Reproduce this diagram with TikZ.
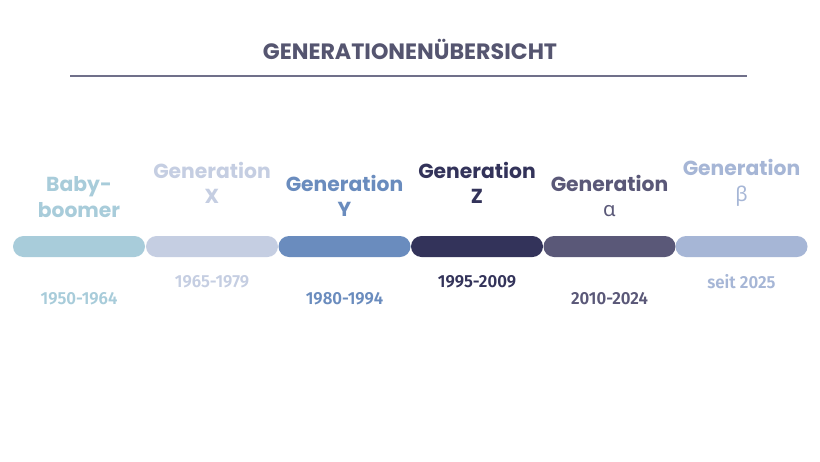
\documentclass[tikz,border=0pt]{standalone}
\usepackage{fontspec}
\setmainfont{Poppins}
\newfontfamily\greekf{Noto Sans}
\newfontfamily\yearf[FakeStretch=0.96]{Fira Sans SemiBold}
\definecolor{cA}{HTML}{A8CCDA}
\definecolor{cB}{HTML}{C5CEE2}
\definecolor{cC}{HTML}{6A8CBE}
\definecolor{cD}{HTML}{33335A}
\definecolor{cE}{HTML}{5A5878}
\definecolor{cF}{HTML}{A6B6D6}
\definecolor{titlec}{HTML}{555570}
\definecolor{rulec}{HTML}{70708A}
\tikzset{
  bar/.style={fill=#1, draw=none, rounded corners=10.5pt, minimum width=132pt, minimum height=21pt, inner sep=0pt},
  gen/.style={text=#1, font=\fontsize{20.3}{25.5}\selectfont\bfseries, align=center, inner sep=0pt, anchor=center},
  yr/.style={text=#1, font=\fontsize{17.5}{20}\yearf, inner sep=0pt, anchor=center},
}
\begin{document}
\begin{tikzpicture}[x=1pt,y=-1pt]
\useasboundingbox[fill=white] (0,0) rectangle (820,461);
\node[text=titlec, font=\fontsize{22.2}{26}\selectfont\bfseries, inner sep=0pt] (title) at (410,49) {GENERATIONENÜBERSICHT};
\coordinate (rl) at (70,76);
\coordinate (rr) at (747,76);
\draw[rulec, line width=1.6pt] (rl) -- (rr);

\node[bar=cA] (b1) at (79,246.5) {};
\node[bar=cB] (b2) at (212,246.5) {};
\node[bar=cC] (b3) at (344.5,246.5) {};
\node[bar=cD] (b4) at (477,246.5) {};
\node[bar=cE] (b5) at (609.5,246.5) {};
\node[bar=cF] (b6) at (741.5,246.5) {};

\node[gen=cA] (g1) at (79,197) {Baby-\\boomer};
\node[gen=cB] (g2) at (212,183) {Generation\\X};
\node[gen=cC] (g3) at (344.5,196) {Generation\\Y};
\node[gen=cD] (g4) at (477,183) {Generation\\Z};
\node[gen=cE] (g5) at (609.5,196) {Generation\\{\greekf\mdseries α}};
\node[gen=cF] (g6) at (741.5,183) {Generation\\{\greekf\mdseries β}};

\node[yr=cA] (y1) at (79,299) {1950-1964};
\node[yr=cB] (y2) at (212,282) {1965-1979};
\node[yr=cC] (y3) at (344.5,299) {1980-1994};
\node[yr=cD] (y4) at (477,282) {1995-2009};
\node[yr=cE] (y5) at (609.5,299) {2010-2024};
\node[yr=cF] (y6) at (741.5,282) {seit 2025};
\end{tikzpicture}
\end{document}
